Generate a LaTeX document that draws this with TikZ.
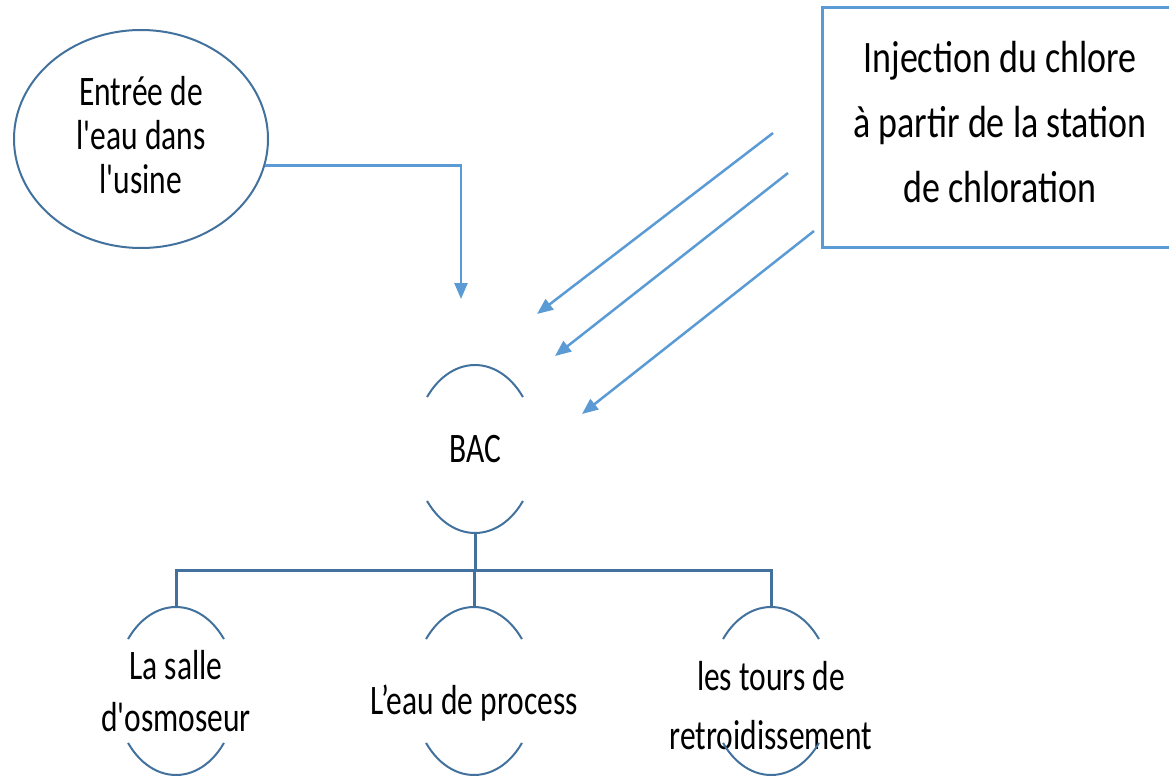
\documentclass[tikz,border=0pt]{standalone}
\usepackage{fontspec}
\setmainfont{Carlito}[FakeStretch=0.75,Ligatures=TeXOff]
\newfontfamily\boxfont{Carlito}[FakeStretch=0.8,Ligatures=TeXOff]
\usetikzlibrary{shapes.geometric,arrows.meta}
\definecolor{lblue}{HTML}{5B9BD5}
\definecolor{dblue}{HTML}{41719C}
\tikzset{
  arr/.style={draw=lblue,line width=2.5pt,-{Triangle[length=16pt,width=13pt]}},
  busline/.style={draw=dblue,line width=3pt},
  roundnode/.style={ellipse,minimum width=122pt,minimum height=168pt,inner sep=0pt,align=center,font=\fontsize{42}{52}\selectfont},
  halfarc/.style={draw=dblue,line width=2pt},
  txt/.style={align=center,inner sep=0pt},
}
\newcommand{\brokenellipse}[1]{%
  \draw[halfarc] ([shift={(38.2:61pt and 84pt)}]#1.center) arc[start angle=38.2,end angle=141.8,x radius=61pt,y radius=84pt];
  \draw[halfarc] ([shift={(218.2:61pt and 84pt)}]#1.center) arc[start angle=218.2,end angle=321.8,x radius=61pt,y radius=84pt];}
\begin{document}
\begin{tikzpicture}[x=1pt,y=1pt]
\useasboundingbox (0,0) rectangle (1169,-776);
\clip (0,0) rectangle (1169,-776);
% entry ellipse
\node[ellipse,draw=dblue,line width=2pt,minimum width=254pt,minimum height=218pt,inner sep=0pt,
  label={[txt,font=\fontsize{42}{44}\selectfont,yshift=4pt]center:{Entrée de\\l'eau dans\\l'usine}}] (entree) at (141,-139) {};
% chlorine box
\node[draw=lblue,line width=3pt,minimum width=358pt,minimum height=239pt,
  label={[txt,font=\boxfont\fontsize{45}{65}\selectfont,yshift=5pt,xshift=-1pt]center:{Injection du chlore\\à partir de la station\\de chloration}}] (chlore) at (1001,-127.5) {};
% BAC
\node[roundnode] (bac) at (475,-449) {BAC};
\brokenellipse{bac}
% children
\node[roundnode] (c1) at (176,-691) {La salle\\d'osmoseur};
\node[roundnode,label={[txt,font=\fontsize{42}{52}\selectfont,yshift=-12pt]center:{L’eau de process}}] (c2) at (474,-691) {};
\node[roundnode,label={[txt,font=\fontsize{42}{59}\selectfont,yshift=-15pt]center:{les tours de\\retroidissement}}] (c3) at (771,-691) {};
\brokenellipse{c1}
\brokenellipse{c2}
\brokenellipse{c3}
% bus
\coordinate (bus) at (474,-570);
\draw[busline] (bac.south) -- (bac.south |- bus);
\draw[busline] (c1.north) -- (c1.north |- bus) -- (c3.north |- bus) -- (c3.north);
\draw[busline] (c2.north) -- (c2.north |- bus);
% entry arrow
\coordinate (intip) at (461,-299);
\draw[arr] (entree.-12.5) -| (intip);
% chlorine arrows
\coordinate (s1) at (773,-133);
\coordinate (t1) at (537,-314);
\coordinate (s2) at (788,-173);
\coordinate (t2) at (555,-356);
\coordinate (s3) at (814,-231);
\coordinate (t3) at (582,-414);
\draw[arr] (s1) -- (t1);
\draw[arr] (s2) -- (t2);
\draw[arr] (s3) -- (t3);
\end{tikzpicture}
\end{document}
